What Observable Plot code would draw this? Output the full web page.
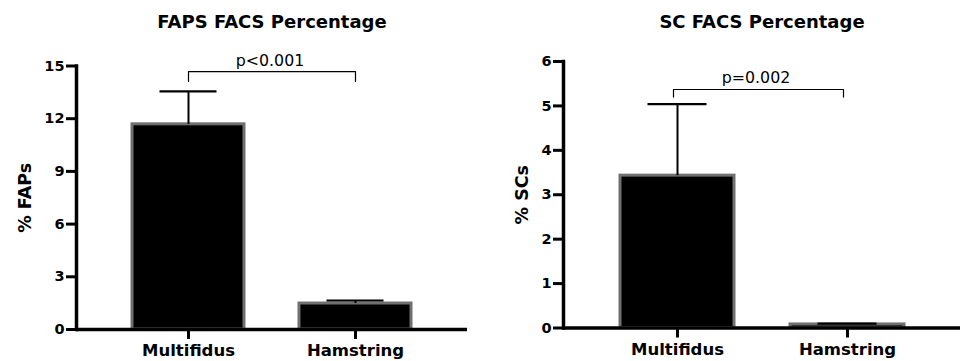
<!DOCTYPE html>
<html>
<head>
<meta charset="utf-8">
<script src="https://cdn.jsdelivr.net/npm/d3@7"></script>
<script src="https://cdn.jsdelivr.net/npm/@observablehq/plot@0.6"></script>
<style>
  html, body { margin: 0; padding: 0; background: #fff; }
  #wrap { display: flex; width: 962px; height: 361px; }
  #wrap svg { display: block; }
</style>
</head>
<body>
<div id="wrap"></div>
<script>
// ---- data ----
const groups = ["Multifidus", "Hamstring"];

const fapsTitle = "FAPS FACS Percentage";
const fapsYLabel = "% FAPs";
const fapsMean = [11.68, 1.48];
const fapsErr = [1.87, 0.17];
const fapsTicks = [0, 3, 6, 9, 12, 15];
const fapsBracket = [14.68, 14.12];   // bracket level, drop end
const fapsP = "p<0.001";

const scTitle = "SC FACS Percentage";
const scYLabel = "% SCs";
const scMean = [3.43, 0.08];
const scErr = [1.61, 0.02];
const scTicks = [0, 1, 2, 3, 4, 5, 6];
const scBracket = [5.37, 5.2];
const scP = "p=0.002";

function panel({title, ylabel, mean, err, ticks, bracket, ptext, width, marginLeft, marginRight, marginTop, marginBottom, labelDx, pDx}) {
  const rows = groups.map((g, i) => ({g, m: mean[i], top: mean[i] + err[i]}));
  const br = [
    {g: groups[0], y: bracket[1]},
    {g: groups[0], y: bracket[0]},
    {g: groups[1], y: bracket[0]},
    {g: groups[1], y: bracket[1]}
  ];
  const ymax = ticks[ticks.length - 1];
  return Plot.plot({
    width, height: 361,
    marginLeft, marginRight, marginTop, marginBottom,
    style: {fontFamily: "'DejaVu Sans', sans-serif", fontWeight: "bold", fontSize: "14.5px", color: "#000", background: "#fff"},
    x: {domain: groups, padding: 0.33, label: null},
    y: {domain: [0, ymax], label: null},
    marks: [
      Plot.barY(rows, {x: "g", y: "m", fill: "#000", stroke: "#707070", strokeWidth: 3}),
      Plot.ruleX(rows, {x: "g", y1: "m", y2: "top", stroke: "#000", strokeWidth: 2}),
      Plot.tickY(rows, {x: "g", y: "top", stroke: "#000", strokeWidth: 2.2, insetLeft: 27.5, insetRight: 27.5}),
      Plot.line(br, {x: "g", y: "y", stroke: "#000", strokeWidth: 1.2, dx: pDx}),
      Plot.text([ptext], {y: bracket[0], text: d => d, frameAnchor: "middle", lineAnchor: "bottom", dy: -6, dx: pDx - 2, fontWeight: "normal", fontSize: 15.8}),
      Plot.axisY({ticks, tickFormat: d3.format("d"), tickSize: 10, tickPadding: 2, strokeWidth: 3, fontSize: 14.5, label: null}),
      Plot.axisX({tickSize: 10, tickPadding: 5, strokeWidth: 3, fontSize: 16.5, label: null}),
      Plot.frame({anchor: "left", strokeWidth: 3.5}),
      Plot.ruleY([0], {strokeWidth: 3.5}),
      Plot.text([ylabel], {frameAnchor: "left", textAnchor: "middle", text: d => d, rotate: -90, dx: labelDx, fontSize: 17.5}),
      Plot.text([title], {frameAnchor: "top", text: d => d, dy: -(marginTop - 22), lineAnchor: "middle", fontSize: 18})
    ]
  });
}

const wrap = document.getElementById("wrap");
wrap.append(panel({
  title: fapsTitle, ylabel: fapsYLabel, mean: fapsMean, err: fapsErr, ticks: fapsTicks,
  bracket: fapsBracket, ptext: fapsP,
  width: 481, marginLeft: 76, marginRight: 14, marginTop: 65.5, marginBottom: 32, labelDx: -51, pDx: 0
}));
wrap.append(panel({
  title: scTitle, ylabel: scYLabel, mean: scMean, err: scErr, ticks: scTicks,
  bracket: scBracket, ptext: scP,
  width: 481, marginLeft: 82, marginRight: 2, marginTop: 61, marginBottom: 33.5, labelDx: -41.5, pDx: -4
}));
</script>
</body>
</html>
